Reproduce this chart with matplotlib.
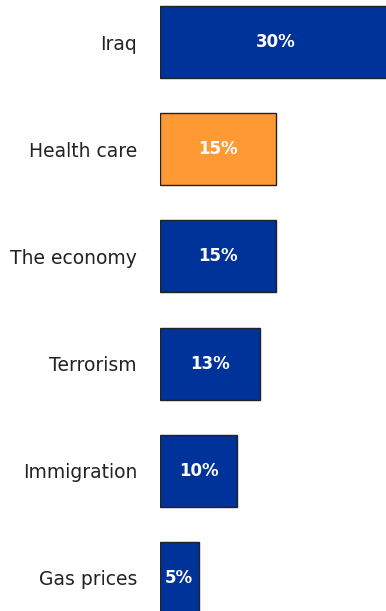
import matplotlib.pyplot as plt
import numpy as np

issues = ["Iraq", "Health care", "The economy", "Terrorism", "Immigration", "Gas prices"]
shares = [30, 15, 15, 13, 10, 5]
highlight = "Health care"

blue = "#003399"
orange = "#FF9933"

fig = plt.figure(figsize=(3.86, 6.11), dpi=100)
ax = fig.add_axes([160 / 386, 0, 1 - 160 / 386, 1])

ind = np.arange(len(issues))
colors = [orange if name == highlight else blue for name in issues]
ax.barh(ind, shares, height=0.672, color=colors, edgecolor="#222222", linewidth=1.0)

for i, v in enumerate(shares):
    ax.text(v / 2, i, "{0}%".format(v), ha="center", va="center",
            color="white", fontsize=12, fontweight="bold")

ax.set_xlim(0, 29.27)
ax.set_ylim(5.308, -0.392)
ax.set_yticks(ind)
ax.set_yticklabels(issues, fontsize=13.5, color="#222222")
ax.tick_params(axis="y", length=0, pad=16.5)
ax.set_xticks([])
for s in ax.spines.values():
    s.set_visible(False)

plt.savefig("out.png", dpi=100)
